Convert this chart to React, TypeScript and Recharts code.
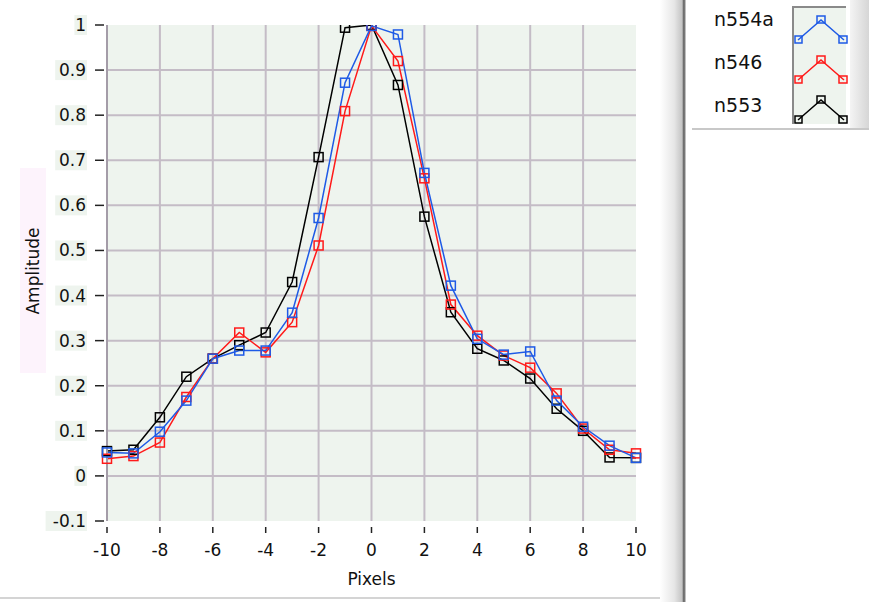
import React from 'react';
import { LineChart, Line, XAxis, YAxis, CartesianGrid, Legend } from 'recharts';

// pixel offsets from the peak
const pixels = [-10, -9, -8, -7, -6, -5, -4, -3, -2, -1, 0, 1, 2, 3, 4, 5, 6, 7, 8, 9, 10];

const n554a = [0.052, 0.05, 0.098, 0.167, 0.26, 0.278, 0.278, 0.362, 0.572, 0.872, 0.998, 0.979, 0.672, 0.422, 0.304, 0.269, 0.276, 0.167, 0.109, 0.067, 0.04];
const n546 = [0.038, 0.044, 0.074, 0.175, 0.26, 0.318, 0.274, 0.341, 0.511, 0.809, 0.998, 0.92, 0.66, 0.38, 0.311, 0.267, 0.24, 0.183, 0.105, 0.058, 0.05];
const n553 = [0.055, 0.058, 0.13, 0.22, 0.26, 0.29, 0.318, 0.43, 0.707, 0.994, 1.0, 0.867, 0.575, 0.363, 0.282, 0.256, 0.216, 0.149, 0.1, 0.041, 0.04];

const xTicks = [-10, -8, -6, -4, -2, 0, 2, 4, 6, 8, 10];
const yTicks = [-0.1, 0, 0.1, 0.2, 0.3, 0.4, 0.5, 0.6, 0.7, 0.8, 0.9, 1];

const seriesNames = ['n554a', 'n546', 'n553'];
const seriesColors: Record<string, string> = {
  n554a: '#1e5ae6',
  n546: '#ff1a1a',
  n553: '#000000',
};

const FONT = '"DejaVu Sans", sans-serif';
const PLOT_BG = '#eef4ee';

const data = pixels.map((x, i) => ({ x, n554a: n554a[i], n546: n546[i], n553: n553[i] }));

const SquareDot = (props: any) => {
  const { cx, cy, stroke } = props;
  if (cx == null || cy == null) return null;
  return <rect x={cx - 4.5} y={cy - 4.5} width={9} height={9} fill="none" stroke={stroke} strokeWidth={1.5} />;
};

const YTick = (props: any) => {
  const { x, y, payload } = props;
  const label = String(payload.value);
  const w = label.length * 9.6 + 2;
  return (
    <g>
      <rect x={x - 21 - w} y={y - 10} width={w + 1} height={20} fill={PLOT_BG} />
      <text x={x - 21} y={y + 6} textAnchor="end" fontSize={17} fontFamily={FONT} fill="#111">{label}</text>
      <line x1={x - 12} x2={x - 3} y1={y} y2={y} stroke="#222" strokeWidth={1.5} />
    </g>
  );
};

const XTick = (props: any) => {
  const { x, y, payload } = props;
  return (
    <g>
      <line x1={x} x2={x} y1={y + 6} y2={y + 12} stroke="#222" strokeWidth={1.5} />
      <text x={x} y={y + 35} textAnchor="middle" fontSize={17} fontFamily={FONT} fill="#111">{payload.value}</text>
    </g>
  );
};

const Swatch = ({ color }: { color: string }) => (
  <svg width={54} height={40} style={{ display: 'block' }}>
    <polyline points="4,32 27,12 50,32" fill="none" stroke={color} strokeWidth={1.5} />
    <rect x={1} y={28} width={7} height={7} fill="none" stroke={color} strokeWidth={1.5} />
    <rect x={23} y={8} width={8} height={7} fill="none" stroke={color} strokeWidth={1.5} />
    <rect x={45} y={28} width={8} height={7} fill="none" stroke={color} strokeWidth={1.5} />
  </svg>
);

const LegendBox = (props: any) => {
  const items = [...(props.payload || [])].sort(
    (a: any, b: any) => seriesNames.indexOf(a.value) - seriesNames.indexOf(b.value)
  );
  return (
    <div style={{ position: 'relative', width: 170, height: 128, fontFamily: FONT }}>
      {items.map((item: any, i: number) => (
        <div key={item.value} style={{ position: 'absolute', left: 24, top: 8 + i * 43, fontSize: 19, color: '#111' }}>
          {item.value}
        </div>
      ))}
      <div style={{
        position: 'absolute', left: 102, top: 6, width: 54, height: 118, background: PLOT_BG,
        borderLeft: '2px solid #8a8a8a', borderTop: '2px solid #8a8a8a', boxSizing: 'border-box',
      }}>
        {items.map((item: any) => (
          <Swatch key={item.value} color={item.color} />
        ))}
      </div>
    </div>
  );
};

export default function App() {
  return (
    <div style={{ position: 'absolute', left: 0, top: 0, width: 869, height: 602, background: '#fff', overflow: 'hidden' }}>
      {/* separator and frame bits */}
      <div style={{ position: 'absolute', left: 0, top: 597, width: 684, height: 2, background: '#d4d4d4' }} />
      <div style={{ position: 'absolute', left: 660, top: 0, width: 26, height: 602, background: 'linear-gradient(to right, #ffffff 0%, #e6e6e6 55%, #c4c4c4 85%, #6e6e6e 90%, #7a7a7a 96%, #ffffff 100%)' }} />
      <div style={{ position: 'absolute', left: 692, top: 128, width: 177, height: 2, background: '#c8c8c8' }} />
      <div style={{ position: 'absolute', left: 850, top: 0, width: 19, height: 128, background: 'linear-gradient(to right, #f4f4f4, #d6d6d6)' }} />
      {/* y axis title */}
      <div style={{
        position: 'absolute', left: 20, top: 168, width: 26, height: 205, background: '#fdf3fc',
        display: 'flex', alignItems: 'center', justifyContent: 'center',
      }}>
        <span style={{ transform: 'rotate(-90deg)', whiteSpace: 'nowrap', fontFamily: FONT, fontSize: 17, color: '#111' }}>Amplitude</span>
      </div>
      <div style={{ position: 'absolute', left: 0, top: 0 }}>
        <LineChart width={869} height={602} data={data} margin={{ top: 25, right: 63, bottom: 21, left: 47 }}>
          <CartesianGrid
            fill={PLOT_BG}
            stroke="#c4bcc6"
            strokeWidth={2}
            verticalValues={[-8, -6, -4, -2, 0, 2, 4, 6, 8]}
            horizontalValues={[0, 0.1, 0.2, 0.3, 0.4, 0.5, 0.6, 0.7, 0.8, 0.9]}
          />
          <XAxis
            type="number"
            dataKey="x"
            domain={[-10, 10]}
            ticks={xTicks}
            height={60}
            axisLine={false}
            tickLine={false}
            tickSize={0}
            tickMargin={0}
            tick={<XTick />}
            interval={0}
            label={{ value: 'Pixels', position: 'insideBottom', offset: -4, fontSize: 17, fontFamily: FONT, fill: '#111' }}
          />
          <YAxis
            type="number"
            domain={[-0.1, 1]}
            ticks={yTicks}
            width={60}
            axisLine={{ stroke: '#a49ca8', strokeWidth: 2 }}
            tickLine={false}
            tickSize={0}
            tickMargin={0}
            tick={<YTick />}
            interval={0}
            allowDataOverflow
          />
          {/* top frame line at 1 */}
          <XAxis xAxisId="top" orientation="top" type="number" dataKey="x" domain={[-10, 10]} height={0} tick={false} tickLine={false} axisLine={{ stroke: '#a49ca8', strokeWidth: 2 }} />
          <Line dataKey="n553" stroke={seriesColors.n553} strokeWidth={1.5} dot={<SquareDot />} activeDot={false} isAnimationActive={false} />
          <Line dataKey="n546" stroke={seriesColors.n546} strokeWidth={1.5} dot={<SquareDot />} activeDot={false} isAnimationActive={false} />
          <Line dataKey="n554a" stroke={seriesColors.n554a} strokeWidth={1.5} dot={<SquareDot />} activeDot={false} isAnimationActive={false} />
          <Legend
            layout="vertical"
            align="right"
            verticalAlign="top"
            content={<LegendBox />}
            wrapperStyle={{ position: 'absolute', left: 690, top: 0, width: 170, height: 128 }}
          />
        </LineChart>
      </div>
    </div>
  );
}
